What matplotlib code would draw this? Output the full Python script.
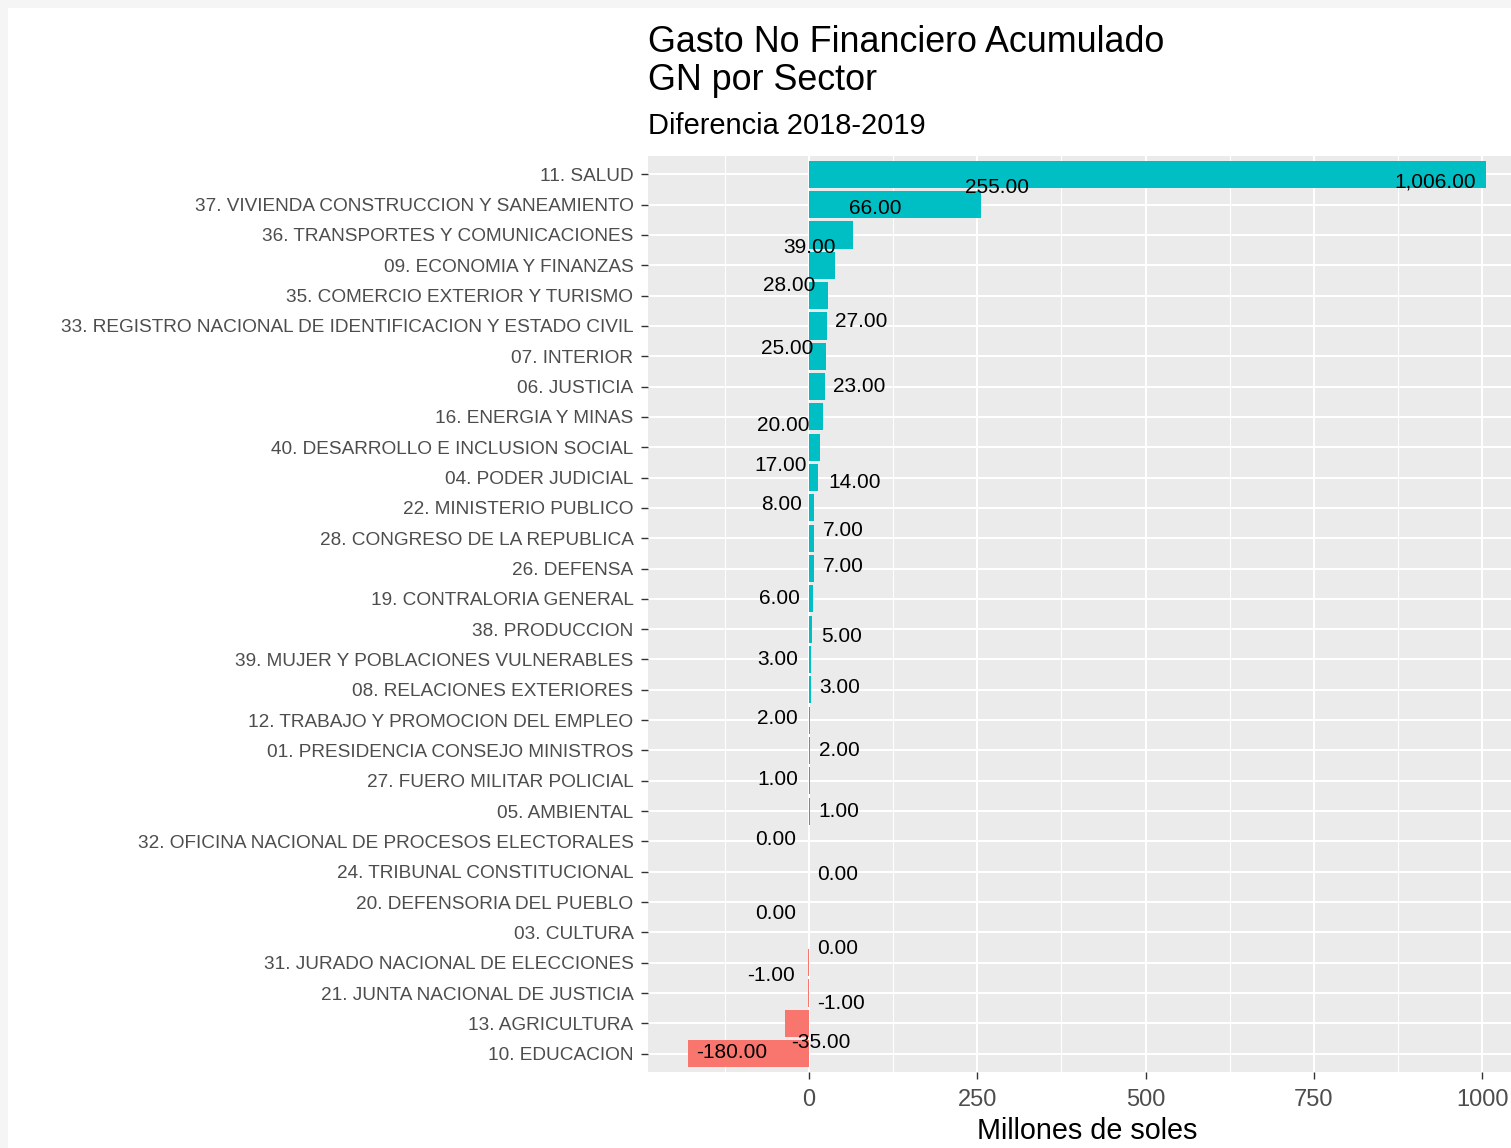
import matplotlib
matplotlib.use("Agg")
import matplotlib.pyplot as plt
from matplotlib.patches import Rectangle

plt.rcParams['font.family'] = ['Liberation Sans', 'DejaVu Sans']

# data: sector and difference 2019-2018 (millones de soles), top to bottom
sectores = [
    "11. SALUD",
    "37. VIVIENDA CONSTRUCCION Y SANEAMIENTO",
    "36. TRANSPORTES Y COMUNICACIONES",
    "09. ECONOMIA Y FINANZAS",
    "35. COMERCIO EXTERIOR Y TURISMO",
    "33. REGISTRO NACIONAL DE IDENTIFICACION Y ESTADO CIVIL",
    "07. INTERIOR",
    "06. JUSTICIA",
    "16. ENERGIA Y MINAS",
    "40. DESARROLLO E INCLUSION SOCIAL",
    "04. PODER JUDICIAL",
    "22. MINISTERIO PUBLICO",
    "28. CONGRESO DE LA REPUBLICA",
    "26. DEFENSA",
    "19. CONTRALORIA GENERAL",
    "38. PRODUCCION",
    "39. MUJER Y POBLACIONES VULNERABLES",
    "08. RELACIONES EXTERIORES",
    "12. TRABAJO Y PROMOCION DEL EMPLEO",
    "01. PRESIDENCIA CONSEJO MINISTROS",
    "27. FUERO MILITAR POLICIAL",
    "05. AMBIENTAL",
    "32. OFICINA NACIONAL DE PROCESOS ELECTORALES",
    "24. TRIBUNAL CONSTITUCIONAL",
    "20. DEFENSORIA DEL PUEBLO",
    "03. CULTURA",
    "31. JURADO NACIONAL DE ELECCIONES",
    "21. JUNTA NACIONAL DE JUSTICIA",
    "13. AGRICULTURA",
    "10. EDUCACION",
]
diferencia = [1006, 255, 66, 39, 28, 27, 25, 23, 20, 17, 14, 8, 7, 7, 6, 5,
              3, 3, 2, 2, 1, 1, 0, 0, 0, 0, -1, -1, -35, -180]

# repel-like label offsets in pixels (dx right, dy up) from the bar end
label_nudge = [(-51, -8), (16, 17), (22, 26), (-26, 18), (-39, 10), (34, 4),
               (-39, 8), (35, 0), (-39, -9), (-40, -18), (36, -5), (-33, 3),
               (30, 8), (30, 2), (-34, 0), (29, -7), (-33, 0), (29, 2),
               (-33, 2), (29, 0), (-32, 1), (29, 0), (-33, 2), (29, -3),
               (-33, -11), (29, -16), (-37, -13), (33, -10), (35, -19), (44, 1)]

POS, NEG = '#00BFC4', '#F8766D'

fig = plt.figure(figsize=(15.11, 11.48), dpi=100)
fig.patch.set_facecolor('#f5f5f5')
fig.patches.append(Rectangle((8 / 1511, 0), 1, 1 - 8 / 1148, transform=fig.transFigure,
                             facecolor='white', edgecolor='none', zorder=-1))

ax = fig.add_axes([648 / 1511, 1 - 1072 / 1148, 878 / 1511, 916 / 1148])
ax.set_facecolor('#EBEBEB')

n = len(sectores)
ypos = list(range(n - 1, -1, -1))
colors = [POS if v > 0 else NEG for v in diferencia]
ax.barh(ypos, diferencia, height=0.9, color=colors, zorder=2)

for y, v, (dx, dy) in zip(ypos, diferencia, label_nudge):
    ax.annotate(f"{v:,.2f}", xy=(v, y), xytext=(dx, dy), textcoords='offset pixels',
                ha='center', va='center', fontsize=15, color='black', zorder=3)

lo, hi = min(diferencia), max(diferencia)
pad = 0.05 * (hi - lo)
ax.set_xlim(lo - pad, hi + pad)
ax.set_ylim(-0.6, n - 0.4)

ax.set_xticks([0, 250, 500, 750, 1000])
ax.set_xticks([-125, 125, 375, 625, 875], minor=True)
ax.set_yticks(ypos)
ax.set_yticklabels(sectores)

ax.grid(True, which='major', color='white', linewidth=1.5, zorder=0)
ax.grid(True, which='minor', axis='x', color='white', linewidth=0.8, zorder=0)
ax.set_axisbelow(True)
for s in ax.spines.values():
    s.set_visible(False)

ax.tick_params(axis='y', which='major', labelsize=13.7, labelcolor='#4D4D4D',
               color='#333333', length=5, width=1, pad=5.5)
ax.tick_params(axis='x', which='major', labelsize=17, labelcolor='#4D4D4D',
               color='#333333', length=5, width=1, pad=7.5)
ax.tick_params(axis='x', which='minor', length=0)

ax.set_xlabel("Millones de soles", fontsize=20.7, color='black', labelpad=4)

fig.text(648 / 1511, 1 - 25 / 1148, "Gasto No Financiero Acumulado\nGN por Sector",
         ha='left', va='top', fontsize=25.8, color='black', linespacing=1.1)
fig.text(648 / 1511, 1 - 126 / 1148, "Diferencia 2018-2019",
         ha='left', va='center', fontsize=20.9, color='black')

fig.savefig("out.png", dpi=100)
